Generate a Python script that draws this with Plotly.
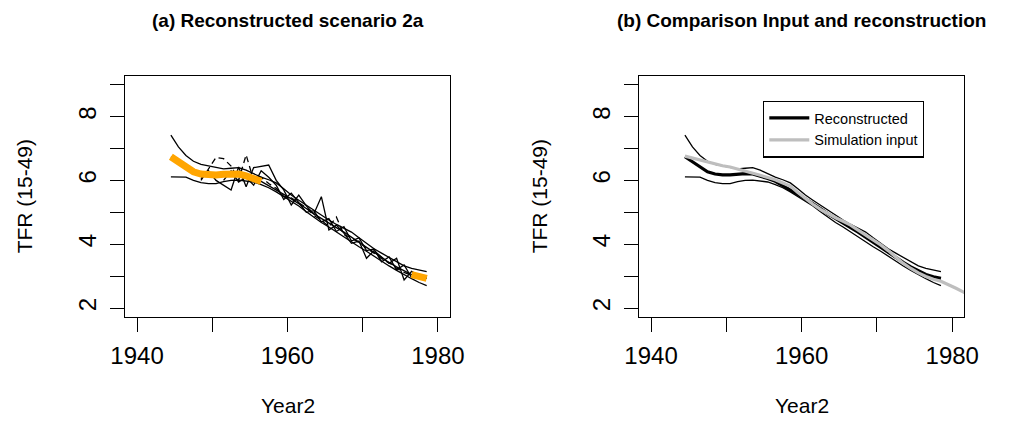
import plotly.graph_objects as go

# ---------------- data ----------------
years = [1944.5 + i for i in range(35)]  # 1944.5 ... 1978.5

median = [6.74, 6.58, 6.42, 6.27, 6.20, 6.17, 6.17, 6.19, 6.21, 6.20,
          6.14, 6.06, 5.97, 5.84, 5.70, 5.56, 5.42, 5.28, 5.12, 4.95,
          4.80, 4.66, 4.52, 4.38, 4.22, 4.06, 3.90, 3.73, 3.57, 3.43,
          3.29, 3.16, 3.05, 2.98, 2.93]

upper = [7.42, 7.05, 6.78, 6.60, 6.50, 6.45, 6.41, 6.36, 6.38, 6.40,
         6.32, 6.20, 6.10, 6.02, 5.92, 5.74, 5.54, 5.38, 5.22, 5.06,
         4.90, 4.76, 4.62, 4.50, 4.38, 4.20, 4.02, 3.86, 3.72, 3.58,
         3.44, 3.32, 3.24, 3.18, 3.14]

lower = [6.11, 6.11, 6.10, 6.00, 5.93, 5.90, 5.90, 5.96, 6.00, 6.01,
         5.98, 5.95, 5.87, 5.77, 5.64, 5.50, 5.36, 5.20, 5.02, 4.84,
         4.68, 4.54, 4.38, 4.22, 4.06, 3.92, 3.78, 3.62, 3.46, 3.32,
         3.18, 3.04, 2.92, 2.80, 2.70]

# individual (jagged) estimates in panel (a)
est_years1 = [1948.5 + i for i in range(31)]
est1 = [6.05, 6.30, 6.00, 5.85, 5.70, 6.42, 5.80, 6.40, 6.45, 6.48,
        6.00, 5.70, 5.23, 5.54, 5.20, 4.95, 5.49, 4.45, 4.60, 4.35,
        4.03, 4.10, 3.56, 3.80, 3.60, 3.40, 3.56, 2.88, 3.15, 3.00,
        2.95]

est_years2 = [1948.5 + i for i in range(29)]
est2 = [6.00, 6.35, 6.72, 6.68, 6.45, 6.00, 6.80, 6.00, 6.10, 5.90,
        5.75, 5.50, 5.45, 5.30, 5.15, 4.90, 4.75, 4.55, 4.85, 4.30,
        4.20, 4.05, 3.88, 3.72, 3.55, 3.42, 3.25, 3.12, 3.02]

est_years3 = [1951.5 + i for i in range(26)]
est3 = [6.00, 6.30, 5.95, 6.10, 5.85, 6.30, 6.10, 5.85, 5.40, 5.60,
        5.30, 5.00, 5.05, 4.70, 4.80, 4.40, 4.55, 4.10, 4.20, 3.80,
        3.85, 3.45, 3.60, 3.20, 3.35, 2.95]

sim_years = [1944.5 + i for i in range(39)]  # 1944.5 ... 1982.5
sim_input = [6.76, 6.70, 6.64, 6.57, 6.51, 6.46, 6.42, 6.36, 6.29, 6.22,
             6.16, 6.09, 6.02, 5.92, 5.82, 5.62, 5.42, 5.25, 5.09, 4.95,
             4.83, 4.72, 4.60, 4.44, 4.29, 4.12, 3.98, 3.80, 3.60, 3.40,
             3.24, 3.10, 2.99, 2.90, 2.84, 2.74, 2.62, 2.50, 2.38]

# orange reconstruction visible only outside the dense middle part
orange = [m if (y <= 1956.5 or y >= 1976.5) else None for y, m in zip(years, median)]

x_ticks = [1940, 1950, 1960, 1970, 1980]
x_ticktext = ["1940", "", "1960", "", "1980"]
y_ticks = [2, 3, 4, 5, 6, 7, 8, 9]
y_ticktext = ["2", "", "4", "", "6", "", "8", ""]

FONT = "Liberation Sans, Arial, sans-serif"
BLACK = "#000000"

fig = go.Figure()

# ---------- panel (a) ----------
thin = dict(color=BLACK, width=1.3)
fig.add_trace(go.Scatter(x=years, y=median, mode="lines", line=thin,
                         xaxis="x", yaxis="y", showlegend=False))
fig.add_trace(go.Scatter(x=years, y=upper, mode="lines", line=thin,
                         xaxis="x", yaxis="y", showlegend=False))
fig.add_trace(go.Scatter(x=years, y=lower, mode="lines", line=thin,
                         xaxis="x", yaxis="y", showlegend=False))
fig.add_trace(go.Scatter(x=est_years1, y=est1, mode="lines", line=thin,
                         xaxis="x", yaxis="y", showlegend=False))
fig.add_trace(go.Scatter(x=est_years2, y=est2, mode="lines",
                         line=dict(color=BLACK, width=1.3, dash="6px,4px"),
                         xaxis="x", yaxis="y", showlegend=False))
fig.add_trace(go.Scatter(x=est_years3, y=est3, mode="lines", line=thin,
                         xaxis="x", yaxis="y", showlegend=False))
fig.add_trace(go.Scatter(x=years, y=orange, mode="lines", connectgaps=False,
                         line=dict(color="#FFA500", width=7),
                         xaxis="x", yaxis="y", showlegend=False))

# ---------- panel (b) ----------
fig.add_trace(go.Scatter(x=years, y=upper, mode="lines", line=thin,
                         xaxis="x2", yaxis="y2", showlegend=False))
fig.add_trace(go.Scatter(x=years, y=lower, mode="lines", line=thin,
                         xaxis="x2", yaxis="y2", showlegend=False))
fig.add_trace(go.Scatter(x=years, y=median, mode="lines", name="Reconstructed",
                         line=dict(color=BLACK, width=3.2),
                         xaxis="x2", yaxis="y2", showlegend=True))
fig.add_trace(go.Scatter(x=sim_years, y=sim_input, mode="lines", name="Simulation input",
                         line=dict(color="#BEBEBE", width=3.2),
                         xaxis="x2", yaxis="y2", showlegend=True))

W, H = 1011, 441
xa_dom = [125 / W, 450 / W]
xb_dom = [639 / W, 964.3 / W]
y_dom = [1 - 317 / H, 1 - 75.7 / H]

def xaxis(domain, anchor):
    return dict(domain=domain, anchor=anchor, range=[1938.4, 1981.6], automargin=False,
                tickvals=x_ticks, ticktext=x_ticktext, ticks="outside", ticklen=14,
                tickwidth=1.3, tickcolor=BLACK, showline=True, linecolor=BLACK, linewidth=1.3,
                mirror=True, showgrid=False, zeroline=False,
                tickfont=dict(family=FONT, size=24, color=BLACK), ticklabelstandoff=3)

def yaxis(anchor):
    return dict(domain=y_dom, anchor=anchor, range=[1.72, 9.28], automargin=False,
                tickvals=y_ticks, ticktext=y_ticktext, ticks="outside", ticklen=14,
                tickwidth=1.3, tickcolor=BLACK, showline=True, linecolor=BLACK, linewidth=1.3,
                mirror=True, showgrid=False, zeroline=False, tickangle=-90,
                tickfont=dict(family=FONT, size=24, color=BLACK), ticklabelstandoff=4)

fig.update_layout(
    width=W, height=H,
    margin=dict(l=0, r=0, t=0, b=0, autoexpand=False),
    paper_bgcolor="white", plot_bgcolor="white",
    font=dict(family=FONT, color=BLACK),
    xaxis=xaxis(xa_dom, "y"),
    yaxis=yaxis("x"),
    xaxis2=xaxis(xb_dom, "y2"),
    yaxis2=yaxis("x2"),
    legend=dict(x=763 / W, y=1 - 100.7 / H, xanchor="left", yanchor="top",
                bordercolor=BLACK, borderwidth=1.3, bgcolor="white",
                font=dict(family=FONT, size=14.5, color=BLACK),
                itemwidth=40, tracegroupgap=0),
)

def ann(text, x, y, size, angle=0):
    return dict(text=text, x=x, y=y, xref="paper", yref="paper", xanchor="center",
                yanchor="middle", showarrow=False, textangle=angle,
                font=dict(size=size, family=FONT, color=BLACK))

annotations = [
    ann("<b>(a) Reconstructed scenario 2a</b>", (xa_dom[0] + xa_dom[1]) / 2, 1 - 20 / H, 19),
    ann("<b>(b) Comparison Input and reconstruction</b>", (xb_dom[0] + xb_dom[1]) / 2, 1 - 20 / H, 19),
    ann("Year2", (xa_dom[0] + xa_dom[1]) / 2, 1 - 405 / H, 21),
    ann("Year2", (xb_dom[0] + xb_dom[1]) / 2, 1 - 405 / H, 21),
    ann("TFR (15-49)", 24 / W, (y_dom[0] + y_dom[1]) / 2, 21, -90),
    ann("TFR (15-49)", 539 / W, (y_dom[0] + y_dom[1]) / 2, 21, -90),
]
fig.update_layout(annotations=annotations)

fig.write_html("out.html")
